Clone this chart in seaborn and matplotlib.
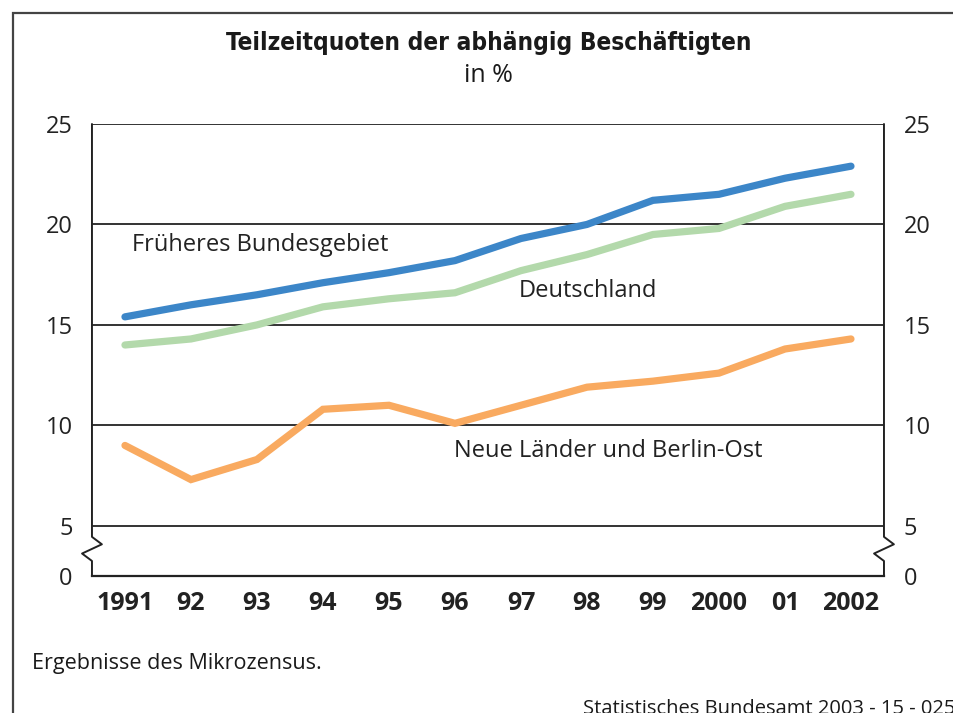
import matplotlib
matplotlib.use("Agg")
import matplotlib.pyplot as plt
from matplotlib.patches import Rectangle
from matplotlib.lines import Line2D
from matplotlib import font_manager
import seaborn as sns
import pandas as pd

# Teilzeitquoten in %
years = ["1991", "92", "93", "94", "95", "96", "97", "98", "99", "2000", "01", "2002"]
frueheres_bundesgebiet = [15.4, 16.0, 16.5, 17.1, 17.6, 18.2, 19.3, 20.0, 21.2, 21.5, 22.3, 22.9]
deutschland = [14.0, 14.3, 15.0, 15.9, 16.3, 16.6, 17.7, 18.5, 19.5, 19.8, 20.9, 21.5]
neue_laender = [9.0, 7.3, 8.3, 10.8, 11.0, 10.1, 11.0, 11.9, 12.2, 12.6, 13.8, 14.3]
series_names = ["Früheres Bundesgebiet", "Deutschland", "Neue Länder und Berlin-Ost"]
y_ticks = [5, 10, 15, 20, 25]

sns.set_theme(style="white")
plt.rcParams["font.family"] = ["Open Sans", "DejaVu Sans"]

rows = []
for name, vals in zip(series_names, [frueheres_bundesgebiet, deutschland, neue_laender]):
    for i, v in enumerate(vals):
        rows.append({"pos": i, "Jahr": years[i], "Quote": v, "Gebiet": name})
df = pd.DataFrame(rows)

palette = {
    "Früheres Bundesgebiet": "#3c86c8",
    "Deutschland": "#b3d9ab",
    "Neue Länder und Berlin-Ost": "#f9aa60",
}

fig = plt.figure(figsize=(9.54, 7.13), dpi=100)
ax = fig.add_axes([0.0964, 0.1921, 0.8302, 0.634])

# the axis is broken below 5: the 0 baseline sits half a step lower
BASE = 2.5

for name in ["Neue Länder und Berlin-Ost", "Deutschland", "Früheres Bundesgebiet"]:
    sns.lineplot(data=df[df["Gebiet"] == name], x="pos", y="Quote", color=palette[name],
                 lw=5.2, ax=ax, legend=False, solid_capstyle="round",
                 solid_joinstyle="miter", zorder=3)

ax.set_xlim(-0.5, len(years) - 0.5)
ax.set_ylim(BASE, 25)
ax.set_xlabel("")
ax.set_ylabel("")

# gridlines
for t in y_ticks:
    ax.axhline(t, color="#333333", lw=1.4, zorder=1)

for s in ["left", "right", "top"]:
    ax.spines[s].set_visible(False)
ax.spines["bottom"].set_color("#222222")
ax.spines["bottom"].set_linewidth(1.6)

# y tick labels on both sides
ax.set_yticks([BASE] + y_ticks)
ax.set_yticklabels(["0"] + [str(t) for t in y_ticks])
ax.tick_params(axis="y", length=0, pad=14, labelsize=17, colors="#222222",
               left=True, right=True, labelleft=True, labelright=True)

# x labels at the centres, tick marks at the boundaries
ax.set_xticks(range(len(years)))
ax.set_xticklabels(years, fontweight="bold")
ax.tick_params(axis="x", which="major", length=0, pad=11, labelsize=18, colors="#222222")
ax.set_xticks([i - 0.5 for i in range(len(years) + 1)], minor=True)
ax.tick_params(axis="x", which="minor", length=7, width=1.4, color="#222222", direction="out")

# broken vertical axes with zigzag
for x0 in [-0.5, len(years) - 0.5]:
    xs = [x0, x0, x0 + 0.15, x0 - 0.15, x0, x0]
    ys = [25, 4.45, 4.08, 3.62, 3.25, BASE]
    ax.add_line(Line2D(xs, ys, color="#222222", lw=1.4, clip_on=False, zorder=4))

# series labels
ax.text(0.1, 18.97, "Früheres Bundesgebiet", fontsize=17, color="#222222", va="center")
ax.text(5.96, 16.68, "Deutschland", fontsize=17, color="#222222", va="center")
ax.text(4.98, 8.72, "Neue Länder und Berlin-Ost", fontsize=17, color="#222222", va="center")

# titles: condensed bold face when available
names = {f.name for f in font_manager.fontManager.ttflist}
if "Liberation Sans Narrow" in names:
    title_font = dict(family="Liberation Sans Narrow", fontsize=21)
else:
    title_font = dict(family="DejaVu Sans", fontstretch="condensed", fontsize=17.5)
fig.text(0.512, 0.94, "Teilzeitquoten der abhängig Beschäftigten", ha="center", va="center",
         fontweight="bold", color="#1a1a1a", **title_font)
fig.text(0.512, 0.894, "in %", ha="center", va="center", fontsize=18, color="#1a1a1a")

# footer
fig.text(32 / 954, 1 - 663 / 713, "Ergebnisse des Mikrozensus.", ha="left", va="center",
         fontsize=15.5, color="#1a1a1a")
fig.text(583 / 954, 1 - 709 / 713, "Statistisches Bundesamt 2003 - 15 - 0259", ha="left",
         va="center", fontsize=14.5, color="#1a1a1a")

# frame around the figure
fig.add_artist(Rectangle((13 / 954, -0.05), 1.2, 1 - 13 / 713 + 0.05, transform=fig.transFigure,
                         fill=False, edgecolor="#444444", lw=1.6))

fig.savefig("out.png", dpi=100)
